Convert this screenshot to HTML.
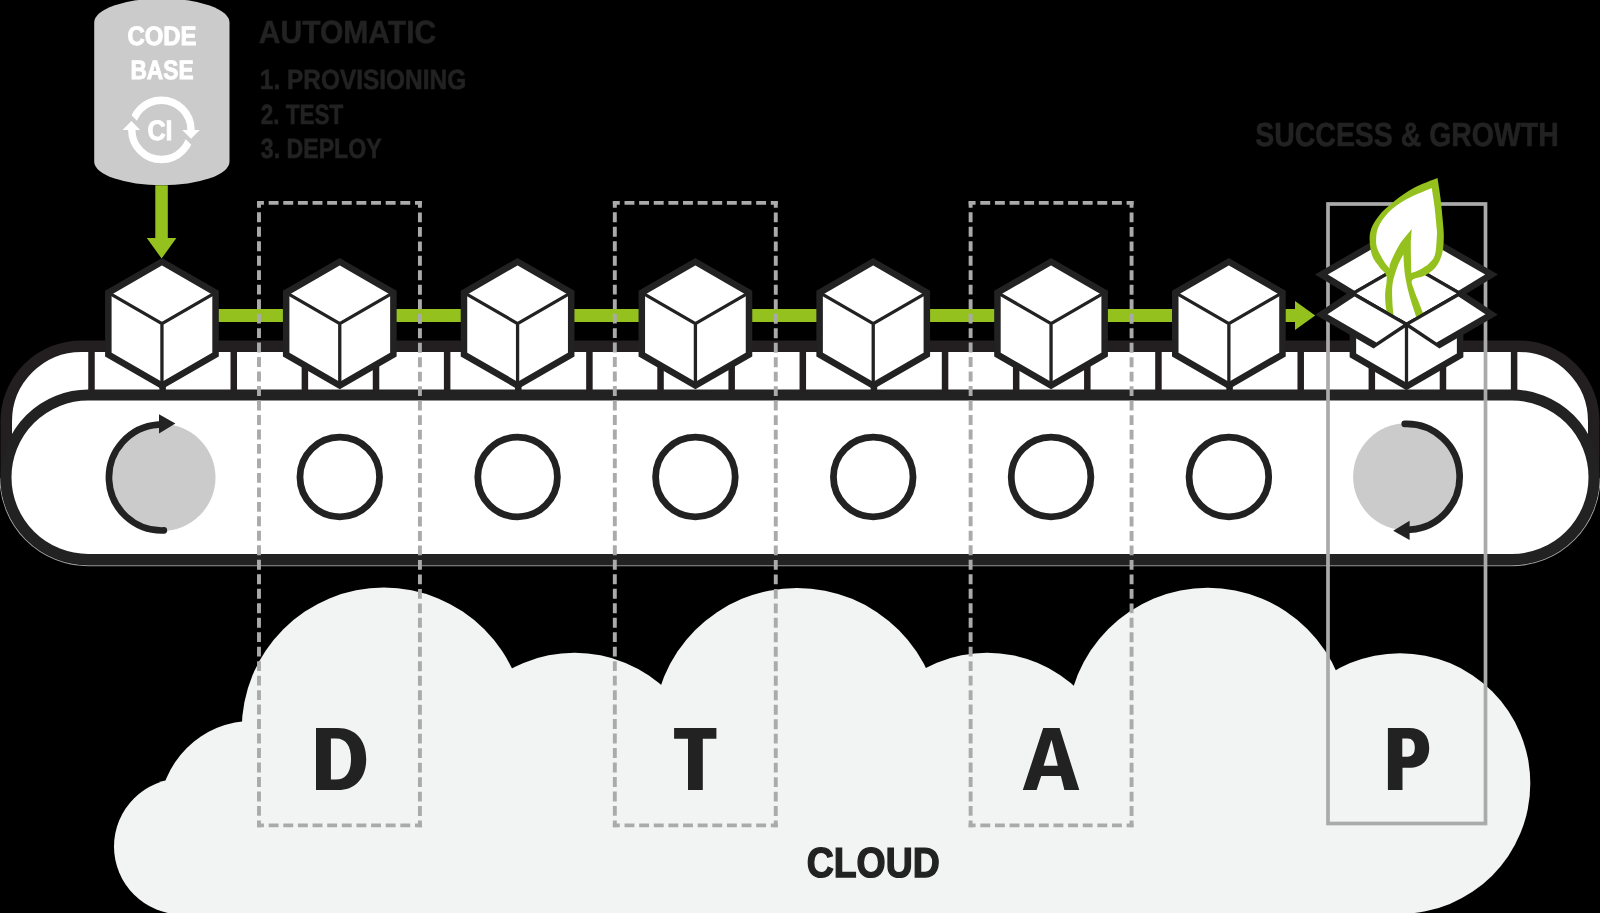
<!DOCTYPE html><html><head><meta charset="utf-8"><style>html,body{margin:0;padding:0;background:#000;width:1600px;height:913px;overflow:hidden}</style></head><body><svg width="1600" height="913" viewBox="0 0 1600 913" style="display:block;will-change:transform;font-family:'Liberation Sans',sans-serif"><rect width="1600" height="913" fill="#000"/><g fill="#f2f4f4"><circle cx="182" cy="846.5" r="68"/><circle cx="253.2" cy="814.9" r="94.2"/><circle cx="383.8" cy="729.7" r="142.1"/><circle cx="574.5" cy="786" r="133.2"/><circle cx="797" cy="731.8" r="143.9"/><circle cx="987.1" cy="783.9" r="131.1"/><circle cx="1207.8" cy="728.4" r="140.7"/><circle cx="1400" cy="783.5" r="130.3"/><rect x="179" y="800" width="1219" height="120"/></g><path d="M94.2 22.5 A67.65 24 0 0 1 229.5 22.5 V161.8 A67.65 23.4 0 0 1 94.2 161.8 Z" fill="#cbcbcb"/><clipPath id="c1"><polygon points="100,83.8 220,203.8 220,60 100,60"/></clipPath><clipPath id="c2"><polygon points="100,53.4 220,173.4 220,200 100,200"/></clipPath><path clip-path="url(#c1)" d="M131.8 129.9 A29.6 29.6 0 0 1 191 129.9" fill="none" stroke="#fff" stroke-width="7.4"/><path clip-path="url(#c2)" d="M191 129.9 A29.6 29.6 0 0 1 131.8 129.9" fill="none" stroke="#fff" stroke-width="7.4"/><polygon points="182.2,129.9 199.8,129.9 191,138.7" fill="#fff"/><polygon points="122.6,129.9 140.2,129.9 131.4,121.1" fill="#fff"/><rect x="155.3" y="185.3" width="12.5" height="53.7" fill="#95c11f"/><polygon points="146.8,238.1 176.4,238.1 161.6,258.5" fill="#95c11f"/><rect x="162" y="309" width="1134" height="13" fill="#95c11f"/><polygon points="1295,301 1315.2,315.5 1295,330" fill="#95c11f"/><path d="M6.25 477.25 V421.4 A75.25 75.25 0 0 1 81.5 346.15 H1518.5 A75.25 75.25 0 0 1 1593.75 421.4 V477.25 Z" fill="#fff" stroke="#231f20" stroke-width="11.5"/><rect x="88.25" y="350" width="6.5" height="42" fill="#231f20"/><rect x="159.38" y="350" width="6.5" height="42" fill="#231f20"/><rect x="230.51" y="350" width="6.5" height="42" fill="#231f20"/><rect x="301.64" y="350" width="6.5" height="42" fill="#231f20"/><rect x="372.77" y="350" width="6.5" height="42" fill="#231f20"/><rect x="443.9" y="350" width="6.5" height="42" fill="#231f20"/><rect x="515.03" y="350" width="6.5" height="42" fill="#231f20"/><rect x="586.16" y="350" width="6.5" height="42" fill="#231f20"/><rect x="657.29" y="350" width="6.5" height="42" fill="#231f20"/><rect x="728.42" y="350" width="6.5" height="42" fill="#231f20"/><rect x="799.55" y="350" width="6.5" height="42" fill="#231f20"/><rect x="870.68" y="350" width="6.5" height="42" fill="#231f20"/><rect x="941.81" y="350" width="6.5" height="42" fill="#231f20"/><rect x="1012.94" y="350" width="6.5" height="42" fill="#231f20"/><rect x="1084.07" y="350" width="6.5" height="42" fill="#231f20"/><rect x="1155.2" y="350" width="6.5" height="42" fill="#231f20"/><rect x="1226.33" y="350" width="6.5" height="42" fill="#231f20"/><rect x="1297.46" y="350" width="6.5" height="42" fill="#231f20"/><rect x="1368.59" y="350" width="6.5" height="42" fill="#231f20"/><rect x="1439.72" y="350" width="6.5" height="42" fill="#231f20"/><rect x="1510.85" y="350" width="6.5" height="42" fill="#231f20"/><clipPath id="hc"><rect x="0" y="478" width="1600" height="100"/></clipPath><path clip-path="url(#hc)" d="M88.25 389.25 H1511.75 A88.25 88.25 0 0 1 1511.75 565.75 H88.25 A88.25 88.25 0 0 1 88.25 389.25 Z" fill="none" stroke="#9a9a9a" stroke-width="1.1"/><path d="M88.25 395 H1511.75 A82.25 82.25 0 0 1 1511.75 559.5 H88.25 A82.25 82.25 0 0 1 88.25 395 Z" fill="#fff" stroke="#222222" stroke-width="11"/><circle cx="339.77" cy="477" r="39.8" fill="none" stroke="#222222" stroke-width="6.8"/><circle cx="517.59" cy="477" r="39.8" fill="none" stroke="#222222" stroke-width="6.8"/><circle cx="695.41" cy="477" r="39.8" fill="none" stroke="#222222" stroke-width="6.8"/><circle cx="873.23" cy="477" r="39.8" fill="none" stroke="#222222" stroke-width="6.8"/><circle cx="1051.05" cy="477" r="39.8" fill="none" stroke="#222222" stroke-width="6.8"/><circle cx="1228.87" cy="477" r="39.8" fill="none" stroke="#222222" stroke-width="6.8"/><g transform="rotate(0 162 477.5)"><circle cx="162" cy="477.5" r="53.5" fill="#cbcbcb"/><path d="M163.85 530.47 A53 53 0 0 1 158.3 424.63" fill="none" stroke="#222222" stroke-width="6.7" stroke-linecap="round"/><polygon points="159,414.3 175.4,423.5 159,433.5" fill="#222222"/></g><g transform="rotate(180 1406.6 476.8)"><circle cx="1406.6" cy="476.8" r="53.5" fill="#cbcbcb"/><path d="M1408.45 529.77 A53 53 0 0 1 1402.9 423.93" fill="none" stroke="#222222" stroke-width="6.7" stroke-linecap="round"/><polygon points="1403.6,413.6 1420,422.8 1403.6,432.8" fill="#222222"/></g><g fill="none" stroke="#aaaaaa" stroke-width="3.9"><path d="M257.03 202.9 L421.87 202.9" stroke-dasharray="9.9 4.73" stroke-dashoffset="3"/><path d="M419.92 200.95 L419.92 827.35" stroke-dasharray="9.9 4.58" stroke-dashoffset="3"/><path d="M421.87 825.4 L257.03 825.4" stroke-dasharray="9.9 4.73" stroke-dashoffset="3"/><path d="M258.98 827.35 L258.98 200.95" stroke-dasharray="9.9 4.58" stroke-dashoffset="3"/></g><g fill="none" stroke="#aaaaaa" stroke-width="3.9"><path d="M612.87 202.9 L777.73 202.9" stroke-dasharray="9.9 4.73" stroke-dashoffset="3"/><path d="M775.77 200.95 L775.77 827.35" stroke-dasharray="9.9 4.58" stroke-dashoffset="3"/><path d="M777.73 825.4 L612.87 825.4" stroke-dasharray="9.9 4.73" stroke-dashoffset="3"/><path d="M614.82 827.35 L614.82 200.95" stroke-dasharray="9.9 4.58" stroke-dashoffset="3"/></g><g fill="none" stroke="#aaaaaa" stroke-width="3.9"><path d="M968.67 202.9 L1133.52 202.9" stroke-dasharray="9.9 4.73" stroke-dashoffset="3"/><path d="M1131.57 200.95 L1131.57 827.35" stroke-dasharray="9.9 4.58" stroke-dashoffset="3"/><path d="M1133.52 825.4 L968.67 825.4" stroke-dasharray="9.9 4.73" stroke-dashoffset="3"/><path d="M970.62 827.35 L970.62 200.95" stroke-dasharray="9.9 4.58" stroke-dashoffset="3"/></g><rect x="1328" y="204" width="157.5" height="619.5" fill="none" stroke="#aaaaaa" stroke-width="3.7"/><polygon points="161.95,261.7 215.56,292.65 215.56,354.55 161.95,385.5 108.34,354.55 108.34,292.65" fill="#fff" stroke="#222222" stroke-width="6.5" stroke-linejoin="miter"/><path d="M108.34 292.65 L161.95 323.6 L215.56 292.65 M161.95 323.6 V385.5" fill="none" stroke="#222222" stroke-width="3.3"/><polygon points="339.77,261.7 393.38,292.65 393.38,354.55 339.77,385.5 286.16,354.55 286.16,292.65" fill="#fff" stroke="#222222" stroke-width="6.5" stroke-linejoin="miter"/><path d="M286.16 292.65 L339.77 323.6 L393.38 292.65 M339.77 323.6 V385.5" fill="none" stroke="#222222" stroke-width="3.3"/><polygon points="517.59,261.7 571.2,292.65 571.2,354.55 517.59,385.5 463.98,354.55 463.98,292.65" fill="#fff" stroke="#222222" stroke-width="6.5" stroke-linejoin="miter"/><path d="M463.98 292.65 L517.59 323.6 L571.2 292.65 M517.59 323.6 V385.5" fill="none" stroke="#222222" stroke-width="3.3"/><polygon points="695.41,261.7 749.02,292.65 749.02,354.55 695.41,385.5 641.8,354.55 641.8,292.65" fill="#fff" stroke="#222222" stroke-width="6.5" stroke-linejoin="miter"/><path d="M641.8 292.65 L695.41 323.6 L749.02 292.65 M695.41 323.6 V385.5" fill="none" stroke="#222222" stroke-width="3.3"/><polygon points="873.23,261.7 926.84,292.65 926.84,354.55 873.23,385.5 819.62,354.55 819.62,292.65" fill="#fff" stroke="#222222" stroke-width="6.5" stroke-linejoin="miter"/><path d="M819.62 292.65 L873.23 323.6 L926.84 292.65 M873.23 323.6 V385.5" fill="none" stroke="#222222" stroke-width="3.3"/><polygon points="1051.05,261.7 1104.66,292.65 1104.66,354.55 1051.05,385.5 997.44,354.55 997.44,292.65" fill="#fff" stroke="#222222" stroke-width="6.5" stroke-linejoin="miter"/><path d="M997.44 292.65 L1051.05 323.6 L1104.66 292.65 M1051.05 323.6 V385.5" fill="none" stroke="#222222" stroke-width="3.3"/><polygon points="1228.87,261.7 1282.48,292.65 1282.48,354.55 1228.87,385.5 1175.26,354.55 1175.26,292.65" fill="#fff" stroke="#222222" stroke-width="6.5" stroke-linejoin="miter"/><path d="M1175.26 292.65 L1228.87 323.6 L1282.48 292.65 M1228.87 323.6 V385.5" fill="none" stroke="#222222" stroke-width="3.3"/><polygon points="1351.29,296.38 1315.01,274.43 1375.05,239.77 1411.32,261.72" fill="#222222"/><polygon points="1354.49,290.72 1327.79,274.57 1374.97,247.33 1401.68,263.48" fill="#fff"/><polygon points="1461.71,296.38 1401.68,261.72 1437.95,239.77 1497.99,274.43" fill="#222222"/><polygon points="1458.51,290.72 1411.32,263.48 1438.03,247.33 1485.21,274.57" fill="#fff"/><polygon points="1349.59,293.55 1406.5,260.69 1463.41,293.55 1406.5,326.41" fill="#222222"/><polygon points="1356.19,293.55 1406.5,264.51 1456.81,293.55 1406.5,322.59" fill="#fff"/><path d="M1437.5 178.1 C1433.53 179.75 1420.87 184.17 1413.7 188 C1406.53 191.83 1400.38 196.37 1394.5 201.1 C1388.62 205.83 1382.48 211.03 1378.4 216.4 C1374.32 221.77 1371.1 226.93 1370 233.3 C1368.9 239.67 1370.18 248.92 1371.8 254.6 C1373.42 260.28 1377.23 263.78 1379.7 267.4 C1382.17 271.02 1385.7 271.87 1386.6 276.3 C1387.5 280.73 1385.18 288.58 1385.1 294 C1385.02 299.42 1385.52 304.8 1386.1 308.8 C1386.68 312.8 1388.18 316.47 1388.6 318 L1425 318 C1424.08 315.67 1421.38 308.82 1419.5 304 C1417.62 299.18 1414.9 293.1 1413.7 289.1 C1412.5 285.1 1410.57 282.22 1412.3 280 C1414.03 277.78 1420.23 277.9 1424.1 275.8 C1427.97 273.7 1432.53 270.93 1435.5 267.4 C1438.47 263.87 1440.52 259.5 1441.9 254.6 C1443.28 249.7 1443.65 243.6 1443.8 238 C1443.95 232.4 1443.35 227.67 1442.8 221 C1442.25 214.33 1441.38 205.15 1440.5 198 C1439.62 190.85 1438 181.42 1437.5 178.1Z" fill="#95c11f"/><path d="M1431.7 188 C1427.42 189.92 1413.1 195.53 1406 199.5 C1398.9 203.47 1393.7 207.2 1389.1 211.8 C1384.5 216.4 1380.57 222.37 1378.4 227.1 C1376.23 231.83 1376.2 236.43 1376.1 240.2 C1376 243.97 1376.37 245.98 1377.8 249.7 C1379.23 253.42 1382.73 259.38 1384.7 262.5 C1386.67 265.62 1388.78 267.42 1389.6 268.4 C1389.77 267.42 1388.97 266.45 1390.6 262.5 C1392.23 258.55 1395.87 250.3 1399.4 244.7 C1402.93 239.1 1409.73 231.53 1411.8 228.9 C1411.63 231.53 1410.88 237.35 1410.8 244.7 C1410.72 252.05 1411.22 268.28 1411.3 273 C1412.62 272.5 1416.25 271.58 1419.2 270 C1422.15 268.42 1426.37 266.07 1429 263.5 C1431.63 260.93 1433.68 259.37 1435 254.6 C1436.32 249.83 1436.62 239.22 1436.9 234.9 C1437.18 230.58 1437.12 233.57 1436.7 228.7 C1436.28 223.83 1435.23 212.48 1434.4 205.7 C1433.57 198.92 1432.15 190.95 1431.7 188Z" fill="#fff"/><path d="M1403.4 254.6 C1402.42 256.57 1399.32 261.47 1397.5 266.4 C1395.68 271.33 1393.33 277.95 1392.5 284.2 C1391.67 290.45 1392.25 298.27 1392.5 303.9 C1392.75 309.53 1393.75 315.65 1394 318 L1416.5 318 C1415.25 314 1410.93 301.28 1409 294 C1407.07 286.72 1405.83 280.87 1404.9 274.3 C1403.97 267.73 1403.65 257.88 1403.4 254.6Z" fill="#fff"/><polygon points="1349.64,289.77 1406.5,322.59 1463.36,289.77 1463.36,357.33 1406.5,390.15 1349.64,357.33" fill="#222222"/><polygon points="1356.14,297.33 1406.5,326.41 1456.86,297.33 1456.86,353.57 1406.5,382.65 1356.14,353.57" fill="#fff"/><path d="M1406.5 324.5 V386.4" stroke="#222222" stroke-width="3.3"/><polygon points="1351.28,290.72 1409.63,324.4 1373.58,348.38 1315.24,314.7" fill="#222222"/><polygon points="1354.5,296.38 1403.37,324.6 1376.43,342.52 1327.56,314.3" fill="#fff"/><polygon points="1461.72,290.72 1497.76,314.7 1439.42,348.38 1403.37,324.4" fill="#222222"/><polygon points="1458.5,296.38 1485.44,314.3 1436.57,342.52 1409.63,324.6" fill="#fff"/><path fill-rule="evenodd" fill="#222222" d="M316 727.9 H338 C355.5 727.9 366.2 740 366.2 759 C366.2 778 355.5 790.1 338 790.1 H316 Z M330.9 738.4 H336 C346 738.4 351 746 351 759 C351 772 346 779.6 336 779.6 H330.9 Z"/><path fill="#222222" d="M674.1 728.1 H716.4 V738.7 H702.8 V790.1 H688 V738.7 H674.1 Z"/><path fill-rule="evenodd" fill="#222222" d="M1022.8 790.1 L1043.2 728.1 H1059.6 L1079.3 790.1 H1064.4 L1060.9 776.1 H1041.2 L1036.6 790.1 Z M1051.5 739.7 L1057.8 765.7 H1043.6 Z"/><path fill-rule="evenodd" fill="#222222" d="M1387.9 790.1 V728.1 H1409 C1422 728.1 1429.2 735.5 1429.2 747.9 C1429.2 760.3 1422 767.8 1409 767.8 H1402.5 V790.1 Z M1402.3 738.4 H1407.5 C1412.5 738.4 1414.8 741.8 1414.8 747.6 C1414.8 753.4 1412.5 756.8 1407.5 756.8 H1402.3 Z"/><text style="text-rendering:geometricPrecision" x="258.75" y="43.45" font-size="32.1" font-weight="bold" fill="#222222" stroke="#222222" stroke-width="0.5" textLength="177.5" lengthAdjust="spacingAndGlyphs" >AUTOMATIC</text><text style="text-rendering:geometricPrecision" x="259.8" y="88.9" font-size="27.76" font-weight="bold" fill="#222222" stroke="#222222" stroke-width="0.6" textLength="206.4" lengthAdjust="spacingAndGlyphs" >1. PROVISIONING</text><text style="text-rendering:geometricPrecision" x="260.8" y="124" font-size="27.76" font-weight="bold" fill="#222222" stroke="#222222" stroke-width="0.6" textLength="82.4" lengthAdjust="spacingAndGlyphs" >2. TEST</text><text style="text-rendering:geometricPrecision" x="260.8" y="157.9" font-size="27.76" font-weight="bold" fill="#222222" stroke="#222222" stroke-width="0.6" textLength="120.9" lengthAdjust="spacingAndGlyphs" >3. DEPLOY</text><text style="text-rendering:geometricPrecision" x="1255.3" y="146.4" font-size="33.36" font-weight="bold" fill="#222222" stroke="#222222" stroke-width="0.6" textLength="303.4" lengthAdjust="spacingAndGlyphs" >SUCCESS &amp; GROWTH</text><text style="text-rendering:geometricPrecision" x="127.45" y="44.95" font-size="26.64" font-weight="bold" fill="#fff" stroke="#fff" stroke-width="0.9" textLength="69.1" lengthAdjust="spacingAndGlyphs" >CODE</text><text style="text-rendering:geometricPrecision" x="130.45" y="79.05" font-size="26.64" font-weight="bold" fill="#fff" stroke="#fff" stroke-width="0.9" textLength="63.1" lengthAdjust="spacingAndGlyphs" >BASE</text><text style="text-rendering:geometricPrecision" x="147.4" y="140.4" font-size="28.18" font-weight="bold" fill="#fff" stroke="#fff" stroke-width="0.8" textLength="25.2" lengthAdjust="spacingAndGlyphs" >CI</text><text style="text-rendering:geometricPrecision" x="806.7" y="877.3" font-size="42.04" font-weight="bold" fill="#222222" stroke="#222222" stroke-width="1.4" textLength="133.1" lengthAdjust="spacingAndGlyphs" >CLOUD</text></svg></body></html>
